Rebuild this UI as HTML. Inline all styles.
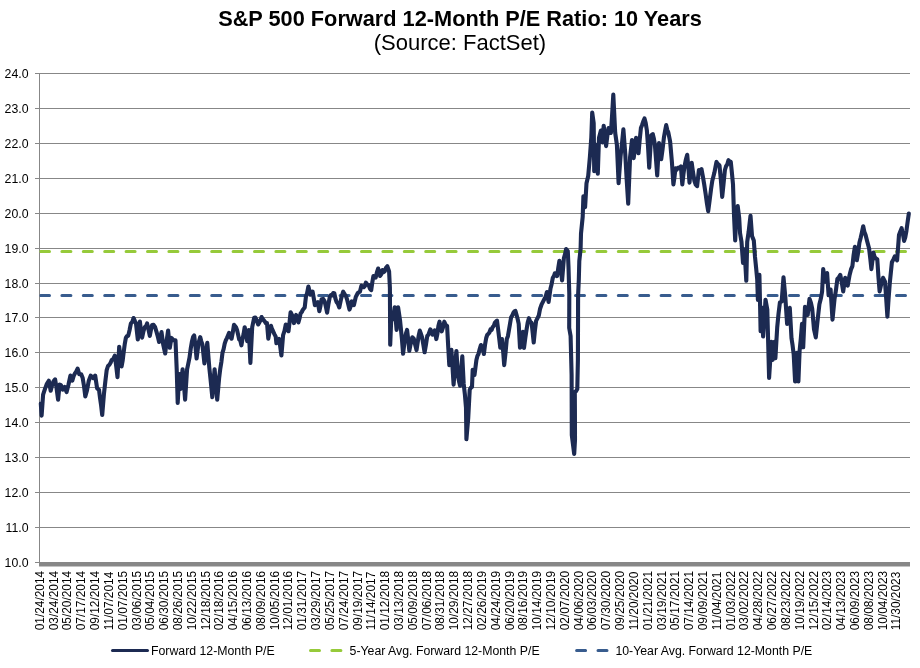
<!DOCTYPE html><html><head><meta charset="utf-8"><style>html,body{margin:0;padding:0;background:#fff;}svg{display:block;font-family:"Liberation Sans",sans-serif;will-change:transform;}</style></head><body>
<svg width="920" height="668" viewBox="0 0 920 668">
<rect x="0" y="0" width="920" height="668" fill="#fff"/>
<text transform="translate(460,26.1) scale(1,1.055)" x="0" y="0" text-anchor="middle" font-size="21.75" font-weight="bold" fill="#000">S&amp;P 500 Forward 12-Month P/E Ratio: 10 Years</text>
<text x="460" y="50.4" text-anchor="middle" font-size="22" fill="#000">(Source: FactSet)</text>
<rect x="40" y="73" width="870" height="1" fill="#878787"/>
<rect x="40" y="108" width="870" height="1" fill="#878787"/>
<rect x="40" y="143" width="870" height="1" fill="#878787"/>
<rect x="40" y="178" width="870" height="1" fill="#878787"/>
<rect x="40" y="213" width="870" height="1" fill="#878787"/>
<rect x="40" y="248" width="870" height="1" fill="#878787"/>
<rect x="40" y="283" width="870" height="1" fill="#878787"/>
<rect x="40" y="317" width="870" height="1" fill="#878787"/>
<rect x="40" y="352" width="870" height="1" fill="#878787"/>
<rect x="40" y="387" width="870" height="1" fill="#878787"/>
<rect x="40" y="422" width="870" height="1" fill="#878787"/>
<rect x="40" y="457" width="870" height="1" fill="#878787"/>
<rect x="40" y="492" width="870" height="1" fill="#878787"/>
<rect x="40" y="527" width="870" height="1" fill="#878787"/>
<rect x="35" y="73" width="4" height="1" fill="#878787"/>
<text x="28.5" y="77.6" text-anchor="end" font-size="12.3" fill="#000">24.0</text>
<rect x="35" y="108" width="4" height="1" fill="#878787"/>
<text x="28.5" y="112.6" text-anchor="end" font-size="12.3" fill="#000">23.0</text>
<rect x="35" y="143" width="4" height="1" fill="#878787"/>
<text x="28.5" y="147.6" text-anchor="end" font-size="12.3" fill="#000">22.0</text>
<rect x="35" y="178" width="4" height="1" fill="#878787"/>
<text x="28.5" y="182.6" text-anchor="end" font-size="12.3" fill="#000">21.0</text>
<rect x="35" y="213" width="4" height="1" fill="#878787"/>
<text x="28.5" y="217.6" text-anchor="end" font-size="12.3" fill="#000">20.0</text>
<rect x="35" y="248" width="4" height="1" fill="#878787"/>
<text x="28.5" y="252.6" text-anchor="end" font-size="12.3" fill="#000">19.0</text>
<rect x="35" y="283" width="4" height="1" fill="#878787"/>
<text x="28.5" y="287.6" text-anchor="end" font-size="12.3" fill="#000">18.0</text>
<rect x="35" y="317" width="4" height="1" fill="#878787"/>
<text x="28.5" y="321.6" text-anchor="end" font-size="12.3" fill="#000">17.0</text>
<rect x="35" y="352" width="4" height="1" fill="#878787"/>
<text x="28.5" y="356.6" text-anchor="end" font-size="12.3" fill="#000">16.0</text>
<rect x="35" y="387" width="4" height="1" fill="#878787"/>
<text x="28.5" y="391.6" text-anchor="end" font-size="12.3" fill="#000">15.0</text>
<rect x="35" y="422" width="4" height="1" fill="#878787"/>
<text x="28.5" y="426.6" text-anchor="end" font-size="12.3" fill="#000">14.0</text>
<rect x="35" y="457" width="4" height="1" fill="#878787"/>
<text x="28.5" y="461.6" text-anchor="end" font-size="12.3" fill="#000">13.0</text>
<rect x="35" y="492" width="4" height="1" fill="#878787"/>
<text x="28.5" y="496.6" text-anchor="end" font-size="12.3" fill="#000">12.0</text>
<rect x="35" y="527" width="4" height="1" fill="#878787"/>
<text x="28.5" y="531.6" text-anchor="end" font-size="12.3" fill="#000">11.0</text>
<rect x="35" y="562" width="4" height="1" fill="#878787"/>
<text x="28.5" y="566.6" text-anchor="end" font-size="12.3" fill="#000">10.0</text>
<rect x="39" y="73" width="1" height="490" fill="#878787"/>
<rect x="39" y="562" width="871" height="4.5" fill="#878787"/>
<clipPath id="pc"><rect x="39.5" y="60" width="871" height="510"/></clipPath>
<g clip-path="url(#pc)">
<line x1="40.5" y1="251.5" x2="912" y2="251.5" stroke="#96ca3a" stroke-width="3" stroke-linecap="round" stroke-dasharray="9 12.4"/>
<line x1="40.5" y1="295.5" x2="912" y2="295.5" stroke="#385c8e" stroke-width="3" stroke-linecap="round" stroke-dasharray="9 12.4"/>
</g>
<path d="M40.8,403.5 L41.6,415.6 L43.1,394.6 L45.0,388.9 L46.9,383.8 L48.8,380.7 L50.7,390.8 L52.6,383.2 L53.9,380.8 L55.1,379.4 L56.4,387.0 L58.1,399.7 L59.6,384.5 L60.9,385.1 L62.8,389.6 L64.7,387.0 L66.6,392.1 L68.5,384.5 L70.4,375.6 L72.3,380.7 L73.6,376.1 L74.8,373.7 L76.2,371.6 L77.6,368.6 L79.3,374.3 L81.2,374.3 L82.7,378.1 L84.0,386.0 L85.3,396.5 L86.9,390.8 L88.8,380.7 L90.7,375.6 L92.0,377.0 L93.3,378.1 L95.2,375.6 L97.1,388.3 L99.0,389.8 L100.0,397.8 L101.1,405.3 L102.2,415.0 L104.0,393.4 L105.3,381.8 L106.7,370.1 L108.0,366.0 L109.4,364.7 L110.6,362.7 L111.8,359.8 L113.0,359.3 L114.8,355.7 L116.1,365.2 L117.5,377.2 L119.2,346.7 L120.4,356.4 L121.6,366.5 L122.7,360.3 L123.7,352.1 L124.8,343.8 L125.9,337.7 L127.1,336.0 L128.2,335.9 L129.6,330.0 L130.9,323.4 L132.3,322.0 L133.6,318.0 L134.8,320.9 L136.0,323.4 L137.8,339.5 L138.8,330.2 L139.9,321.6 L141.0,331.1 L142.1,337.7 L143.5,331.0 L144.9,326.9 L146.0,326.2 L147.1,323.4 L148.4,329.0 L149.8,335.9 L151.0,329.5 L152.1,325.1 L153.6,324.9 L155.0,326.9 L156.6,332.1 L157.8,336.5 L159.1,342.0 L160.3,338.0 L161.5,332.1 L163.2,344.5 L165.2,353.5 L166.6,341.1 L168.1,330.5 L169.8,347.8 L171.4,337.9 L172.7,339.4 L173.9,340.4 L175.5,340.4 L176.7,369.2 L177.7,403.0 L179.3,374.1 L180.5,389.0 L181.6,379.5 L182.6,369.2 L183.9,384.0 L185.1,399.7 L187.1,369.2 L188.3,363.6 L189.5,357.7 L190.8,348.1 L192.0,341.2 L193.1,337.0 L194.2,335.4 L195.4,346.1 L196.6,358.5 L198.6,342.8 L200.2,337.1 L201.3,341.3 L202.4,344.5 L204.4,363.4 L205.9,352.9 L207.3,342.8 L209.3,367.6 L210.8,381.8 L212.3,397.2 L213.4,383.5 L214.6,369.2 L215.9,384.3 L217.2,399.7 L219.2,377.4 L220.3,368.6 L221.4,361.8 L222.5,352.7 L223.6,349.2 L224.7,343.7 L225.8,340.4 L226.9,338.1 L228.0,335.5 L229.1,332.9 L230.3,337.0 L231.6,338.7 L232.8,332.4 L234.0,324.7 L236.0,327.2 L237.1,330.3 L238.1,334.6 L239.2,339.6 L240.3,340.6 L241.4,345.3 L242.5,339.0 L243.6,334.0 L244.7,327.2 L246.0,333.1 L247.2,341.2 L248.8,330.0 L250.4,362.9 L252.2,327.2 L253.2,322.4 L254.2,317.7 L255.3,317.5 L256.5,320.0 L258.2,324.5 L259.3,322.5 L260.5,320.3 L261.6,317.0 L263.5,320.0 L264.7,321.3 L265.8,323.2 L267.0,323.1 L268.3,338.6 L269.6,331.6 L271.0,325.8 L272.0,329.0 L273.0,331.0 L274.4,334.1 L275.7,336.6 L276.4,343.3 L277.8,341.4 L279.2,339.0 L280.3,347.1 L281.4,355.5 L283.1,335.2 L284.5,330.9 L285.8,324.5 L287.1,329.2 L288.5,331.2 L289.6,321.7 L290.6,312.3 L292.5,316.0 L293.9,323.1 L295.0,319.5 L296.1,314.9 L297.3,317.3 L298.4,322.4 L299.5,318.5 L300.6,313.4 L301.8,312.0 L302.9,309.7 L304.7,307.4 L305.9,296.9 L307.1,293.2 L308.4,286.5 L310.4,294.7 L311.5,294.2 L312.6,291.7 L313.7,297.8 L314.9,305.2 L316.3,303.3 L317.8,302.2 L319.3,311.2 L320.5,305.7 L321.6,299.2 L323.1,298.9 L324.6,301.4 L325.9,306.9 L327.1,312.7 L328.5,303.8 L329.8,296.9 L330.9,295.1 L332.1,295.4 L333.2,293.0 L334.3,293.2 L335.4,298.5 L336.6,302.2 L337.9,303.7 L339.3,307.4 L341.2,298.4 L343.2,291.7 L345.0,294.7 L346.1,296.5 L347.2,299.9 L348.3,304.4 L349.5,309.6 L350.6,306.6 L351.7,301.4 L352.8,302.0 L353.9,305.1 L355.8,296.9 L357.7,293.2 L358.8,292.3 L359.9,291.7 L361.4,285.7 L362.6,286.6 L363.7,287.2 L364.8,286.1 L365.9,282.7 L367.3,284.8 L368.6,284.9 L369.9,288.7 L371.2,290.2 L372.3,282.4 L373.4,276.0 L374.5,276.5 L375.7,277.5 L376.9,272.5 L378.2,268.5 L380.1,276.0 L381.3,274.1 L382.4,270.0 L383.5,272.1 L384.6,271.5 L386.0,267.8 L387.3,266.2 L389.1,271.5 L389.9,287.9 L390.2,344.8 L391.4,314.9 L392.9,319.4 L394.7,307.4 L396.6,329.9 L398.1,307.4 L400.1,320.9 L401.9,338.8 L403.1,353.8 L404.9,338.8 L406.0,333.4 L407.1,329.9 L408.2,339.5 L409.3,350.8 L410.3,345.5 L411.3,341.8 L412.3,337.3 L413.8,338.8 L415.2,344.7 L416.5,350.1 L417.6,342.9 L418.7,335.6 L419.8,330.6 L420.9,333.7 L422.1,337.3 L423.3,344.4 L424.6,352.3 L426.0,344.3 L427.3,335.8 L428.3,335.0 L429.4,332.0 L430.4,329.3 L431.5,332.0 L432.6,334.7 L433.7,332.9 L434.8,330.4 L436.3,339.1 L437.4,333.8 L438.4,326.1 L439.5,321.7 L440.6,327.8 L441.7,331.4 L443.0,327.4 L444.3,321.7 L445.7,325.0 L447.1,326.0 L448.2,346.4 L449.3,365.1 L450.4,357.2 L451.4,349.9 L452.5,366.9 L453.6,384.6 L455.0,366.6 L456.4,351.0 L458.0,375.9 L459.0,381.2 L460.1,385.7 L461.2,369.7 L462.3,356.4 L463.7,383.9 L464.9,394.6 L466.0,407.9 L466.4,439.3 L468.2,418.4 L469.7,389.9 L470.9,387.5 L472.0,386.9 L472.7,369.7 L474.5,375.0 L476.4,360.0 L477.4,356.0 L478.5,354.0 L479.7,349.0 L480.9,345.0 L481.9,346.7 L482.9,349.5 L483.9,354.0 L485.0,344.9 L486.2,338.0 L487.2,335.0 L488.3,333.9 L489.4,332.5 L490.5,329.3 L491.6,330.0 L492.7,327.1 L493.8,325.8 L494.8,322.8 L495.9,321.5 L497.0,320.6 L498.1,329.2 L499.2,338.3 L500.3,347.7 L502.0,339.1 L503.1,350.9 L504.2,365.1 L505.5,353.1 L506.8,339.1 L507.9,336.2 L508.9,330.4 L510.0,323.8 L511.1,317.4 L512.2,315.7 L513.3,312.9 L514.4,311.3 L515.4,310.9 L516.5,314.7 L517.6,318.8 L518.7,323.9 L520.0,347.7 L520.8,347.0 L521.9,340.3 L522.9,331.7 L524.0,347.9 L525.3,337.9 L526.5,329.9 L527.7,322.6 L528.9,318.2 L530.2,321.8 L531.6,322.7 L532.7,332.7 L533.7,342.5 L534.9,330.6 L536.1,320.9 L537.4,318.3 L538.8,315.5 L540.1,308.7 L541.5,304.7 L542.8,302.1 L544.2,299.3 L545.5,297.2 L546.9,292.1 L548.6,302.0 L550.5,288.5 L551.6,284.2 L552.8,277.8 L553.9,276.1 L554.9,273.3 L556.0,273.9 L557.1,276.0 L558.3,267.9 L559.4,260.7 L560.8,269.6 L562.1,280.4 L563.9,258.0 L565.0,254.3 L566.1,249.0 L567.8,251.0 L568.5,267.0 L569.3,294.0 L569.2,328.0 L570.6,336.0 L571.6,375.0 L571.8,435.0 L573.0,444.6 L574.2,454.0 L575.0,440.0 L574.9,408.0 L574.8,392.0 L576.0,391.3 L577.3,389.0 L577.9,360.0 L578.1,295.0 L578.8,280.0 L579.3,261.0 L580.6,249.0 L581.0,233.5 L582.7,216.7 L583.4,196.4 L585.1,207.2 L586.5,183.2 L588.2,176.0 L589.9,156.9 L591.3,137.7 L592.2,112.5 L593.7,123.3 L594.2,171.2 L596.1,144.9 L597.8,173.6 L599.0,137.7 L600.9,130.5 L602.5,142.5 L603.7,125.7 L604.9,135.4 L606.1,146.1 L607.3,136.3 L608.5,128.1 L609.7,131.4 L610.9,132.9 L612.1,115.2 L613.3,94.6 L615.2,132.9 L616.9,144.9 L618.6,183.2 L620.5,156.9 L621.9,144.1 L623.4,129.3 L625.3,154.5 L626.7,179.9 L628.2,203.6 L630.1,156.9 L632.0,140.1 L633.7,158.1 L634.9,148.8 L636.1,137.7 L637.3,146.2 L638.5,153.3 L639.7,139.9 L640.9,128.1 L642.1,125.0 L643.3,121.3 L644.5,118.5 L645.7,123.1 L646.9,130.5 L648.1,147.7 L649.2,167.6 L651.2,135.3 L652.8,134.1 L653.9,138.8 L654.9,144.9 L656.0,159.4 L657.2,175.4 L659.0,143.1 L660.1,151.7 L661.2,159.2 L662.5,149.8 L663.9,137.7 L665.0,131.3 L666.2,125.1 L667.3,130.0 L668.3,132.3 L670.1,141.3 L671.9,161.9 L673.4,184.4 L674.4,177.8 L675.5,168.2 L676.7,169.6 L677.9,167.8 L679.1,168.2 L680.9,166.4 L682.3,184.4 L683.4,174.6 L684.5,166.4 L685.8,159.8 L687.2,154.8 L688.4,167.8 L689.5,182.6 L690.6,171.8 L691.7,162.8 L693.0,172.2 L694.4,180.8 L695.7,184.7 L697.1,186.2 L698.9,170.0 L700.2,170.6 L701.5,169.1 L702.9,176.7 L704.2,184.4 L705.6,193.8 L706.9,203.2 L708.2,211.3 L709.6,200.5 L711.0,189.4 L712.3,180.8 L713.4,176.6 L714.4,172.6 L715.4,167.5 L716.5,161.9 L717.5,163.9 L718.5,164.3 L719.5,165.5 L720.9,180.3 L722.2,196.9 L723.5,184.4 L724.9,170.0 L726.1,166.2 L727.3,164.3 L728.5,160.1 L729.7,162.5 L730.8,161.9 L731.9,172.8 L733.0,184.4 L734.0,215.0 L735.2,240.4 L736.2,215.0 L737.7,206.0 L739.2,218.0 L740.0,232.9 L741.5,241.9 L743.0,262.9 L744.5,249.4 L746.3,280.8 L747.2,241.9 L748.7,231.4 L750.5,215.7 L752.0,235.9 L753.8,240.4 L755.0,256.9 L756.1,267.8 L757.2,279.3 L757.9,300.0 L759.4,274.9 L760.1,306.0 L760.6,331.1 L762.4,307.8 L763.1,336.5 L764.3,319.4 L765.5,299.7 L767.3,309.6 L769.1,377.9 L770.2,360.6 L771.4,341.9 L772.7,359.9 L774.5,341.9 L775.4,358.1 L777.2,327.5 L778.5,314.0 L779.9,302.4 L781.7,301.5 L783.5,277.2 L785.3,297.0 L787.1,323.9 L788.4,314.7 L789.8,307.8 L791.5,338.3 L792.6,345.4 L793.7,354.5 L795.1,381.5 L796.9,352.7 L798.4,381.5 L799.6,350.9 L800.8,338.6 L802.0,323.9 L803.2,347.3 L805.0,306.9 L806.4,311.8 L807.7,314.9 L809.5,298.8 L810.9,302.6 L812.2,308.6 L814.0,329.3 L815.8,337.4 L817.6,320.3 L819.4,304.2 L820.8,298.8 L822.1,291.6 L823.2,269.1 L825.1,281.7 L827.1,273.0 L828.6,295.3 L830.6,289.5 L832.5,319.6 L834.5,299.2 L835.9,290.4 L837.4,278.8 L838.8,277.3 L840.3,274.9 L841.8,282.7 L843.2,291.4 L845.2,277.8 L846.4,281.9 L847.7,285.6 L849.6,274.9 L851.0,269.4 L852.4,266.1 L853.6,255.0 L854.9,246.7 L856.8,260.3 L858.1,253.0 L859.4,242.8 L860.7,237.7 L862.0,231.9 L863.2,226.3 L864.4,231.9 L865.6,235.0 L867.1,240.9 L869.1,248.6 L870.3,258.7 L871.4,269.1 L873.4,252.5 L874.5,256.6 L875.7,258.4 L877.3,259.3 L878.4,276.4 L879.6,291.4 L880.8,286.0 L881.9,281.6 L883.1,277.8 L885.0,281.7 L886.2,298.6 L887.4,316.7 L888.6,298.4 L889.9,281.7 L891.9,262.3 L893.3,259.6 L894.8,256.4 L895.9,257.6 L897.1,260.3 L899.0,235.0 L900.3,231.4 L901.6,228.2 L902.8,233.4 L904.1,240.9 L905.3,237.2 L906.4,231.1 L907.6,221.9 L908.8,213.6" fill="none" stroke="#1c2a52" stroke-width="4.1" stroke-linejoin="round" stroke-linecap="round"/>
<text transform="translate(43.80,630.3) rotate(-90) scale(0.99,1.07)" font-size="12" fill="#000">01/24/2014</text>
<text transform="translate(57.62,630.3) rotate(-90) scale(0.99,1.07)" font-size="12" fill="#000">03/24/2014</text>
<text transform="translate(71.43,630.3) rotate(-90) scale(0.99,1.07)" font-size="12" fill="#000">05/20/2014</text>
<text transform="translate(85.25,630.3) rotate(-90) scale(0.99,1.07)" font-size="12" fill="#000">07/17/2014</text>
<text transform="translate(99.06,630.3) rotate(-90) scale(0.99,1.07)" font-size="12" fill="#000">09/12/2014</text>
<text transform="translate(112.88,630.3) rotate(-90) scale(0.99,1.07)" font-size="12" fill="#000">11/07/2014</text>
<text transform="translate(126.70,630.3) rotate(-90) scale(0.99,1.07)" font-size="12" fill="#000">01/07/2015</text>
<text transform="translate(140.51,630.3) rotate(-90) scale(0.99,1.07)" font-size="12" fill="#000">03/06/2015</text>
<text transform="translate(154.33,630.3) rotate(-90) scale(0.99,1.07)" font-size="12" fill="#000">05/04/2015</text>
<text transform="translate(168.15,630.3) rotate(-90) scale(0.99,1.07)" font-size="12" fill="#000">06/30/2015</text>
<text transform="translate(181.96,630.3) rotate(-90) scale(0.99,1.07)" font-size="12" fill="#000">08/26/2015</text>
<text transform="translate(195.78,630.3) rotate(-90) scale(0.99,1.07)" font-size="12" fill="#000">10/22/2015</text>
<text transform="translate(209.59,630.3) rotate(-90) scale(0.99,1.07)" font-size="12" fill="#000">12/18/2015</text>
<text transform="translate(223.41,630.3) rotate(-90) scale(0.99,1.07)" font-size="12" fill="#000">02/18/2016</text>
<text transform="translate(237.23,630.3) rotate(-90) scale(0.99,1.07)" font-size="12" fill="#000">04/15/2016</text>
<text transform="translate(251.04,630.3) rotate(-90) scale(0.99,1.07)" font-size="12" fill="#000">06/13/2016</text>
<text transform="translate(264.86,630.3) rotate(-90) scale(0.99,1.07)" font-size="12" fill="#000">08/09/2016</text>
<text transform="translate(278.67,630.3) rotate(-90) scale(0.99,1.07)" font-size="12" fill="#000">10/05/2016</text>
<text transform="translate(292.49,630.3) rotate(-90) scale(0.99,1.07)" font-size="12" fill="#000">12/01/2016</text>
<text transform="translate(306.31,630.3) rotate(-90) scale(0.99,1.07)" font-size="12" fill="#000">01/31/2017</text>
<text transform="translate(320.12,630.3) rotate(-90) scale(0.99,1.07)" font-size="12" fill="#000">03/29/2017</text>
<text transform="translate(333.94,630.3) rotate(-90) scale(0.99,1.07)" font-size="12" fill="#000">05/25/2017</text>
<text transform="translate(347.75,630.3) rotate(-90) scale(0.99,1.07)" font-size="12" fill="#000">07/24/2017</text>
<text transform="translate(361.57,630.3) rotate(-90) scale(0.99,1.07)" font-size="12" fill="#000">09/19/2017</text>
<text transform="translate(375.39,630.3) rotate(-90) scale(0.99,1.07)" font-size="12" fill="#000">11/14/2017</text>
<text transform="translate(389.20,630.3) rotate(-90) scale(0.99,1.07)" font-size="12" fill="#000">01/12/2018</text>
<text transform="translate(403.02,630.3) rotate(-90) scale(0.99,1.07)" font-size="12" fill="#000">03/13/2018</text>
<text transform="translate(416.84,630.3) rotate(-90) scale(0.99,1.07)" font-size="12" fill="#000">05/09/2018</text>
<text transform="translate(430.65,630.3) rotate(-90) scale(0.99,1.07)" font-size="12" fill="#000">07/06/2018</text>
<text transform="translate(444.47,630.3) rotate(-90) scale(0.99,1.07)" font-size="12" fill="#000">08/31/2018</text>
<text transform="translate(458.28,630.3) rotate(-90) scale(0.99,1.07)" font-size="12" fill="#000">10/29/2018</text>
<text transform="translate(472.10,630.3) rotate(-90) scale(0.99,1.07)" font-size="12" fill="#000">12/27/2018</text>
<text transform="translate(485.92,630.3) rotate(-90) scale(0.99,1.07)" font-size="12" fill="#000">02/26/2019</text>
<text transform="translate(499.73,630.3) rotate(-90) scale(0.99,1.07)" font-size="12" fill="#000">04/24/2019</text>
<text transform="translate(513.55,630.3) rotate(-90) scale(0.99,1.07)" font-size="12" fill="#000">06/20/2019</text>
<text transform="translate(527.36,630.3) rotate(-90) scale(0.99,1.07)" font-size="12" fill="#000">08/16/2019</text>
<text transform="translate(541.18,630.3) rotate(-90) scale(0.99,1.07)" font-size="12" fill="#000">10/14/2019</text>
<text transform="translate(555.00,630.3) rotate(-90) scale(0.99,1.07)" font-size="12" fill="#000">12/10/2019</text>
<text transform="translate(568.81,630.3) rotate(-90) scale(0.99,1.07)" font-size="12" fill="#000">02/07/2020</text>
<text transform="translate(582.63,630.3) rotate(-90) scale(0.99,1.07)" font-size="12" fill="#000">04/06/2020</text>
<text transform="translate(596.45,630.3) rotate(-90) scale(0.99,1.07)" font-size="12" fill="#000">06/03/2020</text>
<text transform="translate(610.26,630.3) rotate(-90) scale(0.99,1.07)" font-size="12" fill="#000">07/30/2020</text>
<text transform="translate(624.08,630.3) rotate(-90) scale(0.99,1.07)" font-size="12" fill="#000">09/25/2020</text>
<text transform="translate(637.89,630.3) rotate(-90) scale(0.99,1.07)" font-size="12" fill="#000">11/20/2020</text>
<text transform="translate(651.71,630.3) rotate(-90) scale(0.99,1.07)" font-size="12" fill="#000">01/21/2021</text>
<text transform="translate(665.53,630.3) rotate(-90) scale(0.99,1.07)" font-size="12" fill="#000">03/19/2021</text>
<text transform="translate(679.34,630.3) rotate(-90) scale(0.99,1.07)" font-size="12" fill="#000">05/17/2021</text>
<text transform="translate(693.16,630.3) rotate(-90) scale(0.99,1.07)" font-size="12" fill="#000">07/14/2021</text>
<text transform="translate(706.97,630.3) rotate(-90) scale(0.99,1.07)" font-size="12" fill="#000">09/09/2021</text>
<text transform="translate(720.79,630.3) rotate(-90) scale(0.99,1.07)" font-size="12" fill="#000">11/04/2021</text>
<text transform="translate(734.61,630.3) rotate(-90) scale(0.99,1.07)" font-size="12" fill="#000">01/03/2022</text>
<text transform="translate(748.42,630.3) rotate(-90) scale(0.99,1.07)" font-size="12" fill="#000">03/02/2022</text>
<text transform="translate(762.24,630.3) rotate(-90) scale(0.99,1.07)" font-size="12" fill="#000">04/28/2022</text>
<text transform="translate(776.05,630.3) rotate(-90) scale(0.99,1.07)" font-size="12" fill="#000">06/27/2022</text>
<text transform="translate(789.87,630.3) rotate(-90) scale(0.99,1.07)" font-size="12" fill="#000">08/23/2022</text>
<text transform="translate(803.69,630.3) rotate(-90) scale(0.99,1.07)" font-size="12" fill="#000">10/19/2022</text>
<text transform="translate(817.50,630.3) rotate(-90) scale(0.99,1.07)" font-size="12" fill="#000">12/15/2022</text>
<text transform="translate(831.32,630.3) rotate(-90) scale(0.99,1.07)" font-size="12" fill="#000">02/14/2023</text>
<text transform="translate(845.14,630.3) rotate(-90) scale(0.99,1.07)" font-size="12" fill="#000">04/13/2023</text>
<text transform="translate(858.95,630.3) rotate(-90) scale(0.99,1.07)" font-size="12" fill="#000">06/09/2023</text>
<text transform="translate(872.77,630.3) rotate(-90) scale(0.99,1.07)" font-size="12" fill="#000">08/08/2023</text>
<text transform="translate(886.58,630.3) rotate(-90) scale(0.99,1.07)" font-size="12" fill="#000">10/04/2023</text>
<text transform="translate(900.40,630.3) rotate(-90) scale(0.99,1.07)" font-size="12" fill="#000">11/30/2023</text>
<line x1="112.5" y1="650.5" x2="147.5" y2="650.5" stroke="#1c2a52" stroke-width="3" stroke-linecap="round"/>
<text x="151" y="654.6" font-size="12.3" fill="#000">Forward 12-Month P/E</text>
<line x1="310.5" y1="650.5" x2="342" y2="650.5" stroke="#96ca3a" stroke-width="3" stroke-linecap="round" stroke-dasharray="9 12.4"/>
<text x="349.6" y="654.6" font-size="12.3" fill="#000">5-Year Avg. Forward 12-Month P/E</text>
<line x1="576.6" y1="650.5" x2="608" y2="650.5" stroke="#385c8e" stroke-width="3" stroke-linecap="round" stroke-dasharray="9 12.4"/>
<text x="615.4" y="654.6" font-size="12.3" fill="#000">10-Year Avg. Forward 12-Month P/E</text>
</svg></body></html>
